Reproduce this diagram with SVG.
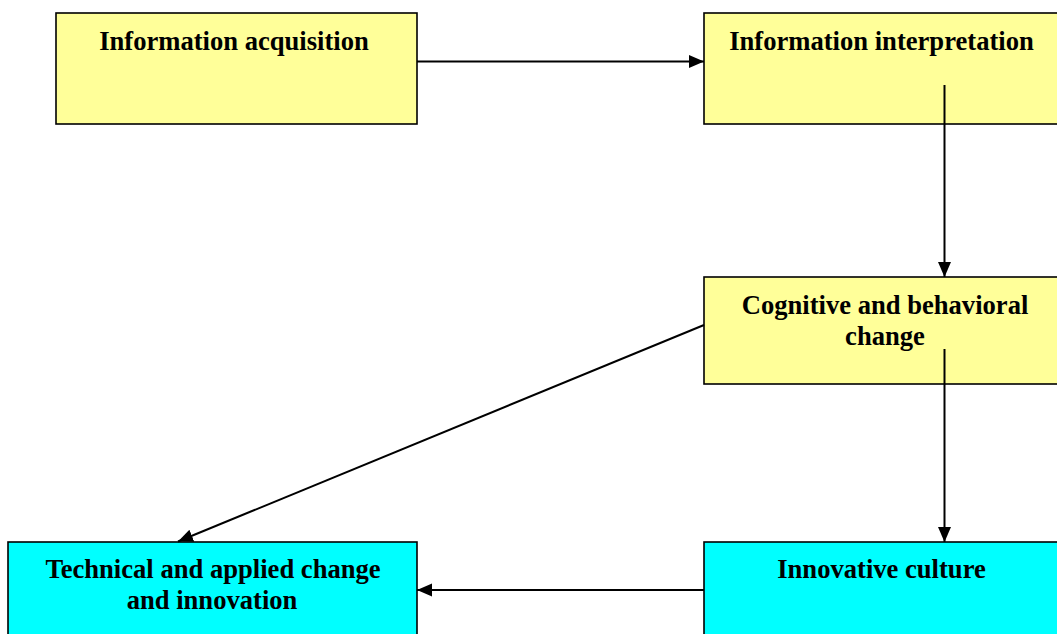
<svg xmlns="http://www.w3.org/2000/svg" width="1057" height="634" viewBox="0 0 1057 634">
<style>
.box{stroke:#000;stroke-width:1.6}
.y{fill:#FFFF99}
.c{fill:#00FFFF}
.t{font-family:"Liberation Serif","Times New Roman",serif;font-weight:bold;font-size:26.6px;fill:#000;text-anchor:middle}
.e{stroke:#000;stroke-width:2;fill:none;marker-end:url(#ah)}
</style>
<defs>
<marker id="ah" markerUnits="userSpaceOnUse" markerWidth="16" markerHeight="14" refX="15" refY="6.5" orient="auto">
<path d="M0,0 L15,6.5 L0,13 z" fill="#000"/>
</marker>
</defs>
<rect width="1057" height="634" fill="#fff"/>
<g id="n1"><rect class="box y" x="56" y="13" width="361" height="111"/><text class="t" x="234" y="50">Information acquisition</text></g>
<g id="n2"><rect class="box y" x="704" y="13" width="360" height="111"/><text class="t" x="881.5" y="50">Information interpretation</text></g>
<g id="n3"><rect class="box y" x="704" y="277" width="360" height="107"/><text class="t" x="885" y="314">Cognitive and behavioral</text><text class="t" x="885" y="345">change</text></g>
<g id="n4"><rect class="box c" x="8" y="542" width="409" height="100"/><text class="t" x="213" y="578">Technical and applied change</text><text class="t" x="212" y="609">and innovation</text></g>
<g id="n5"><rect class="box c" x="704" y="542" width="360" height="100"/><text class="t" x="881.5" y="578">Innovative culture</text></g>
<g id="edges">
<path class="e" d="M417,61.5 L704,61.5"/>
<path class="e" d="M944.5,85 L944.5,277"/>
<path class="e" d="M944.5,349 L944.5,542"/>
<path class="e" d="M704,590 L417,590"/>
<path class="e" d="M704,325 L178,541.5"/>
</g>
</svg>
